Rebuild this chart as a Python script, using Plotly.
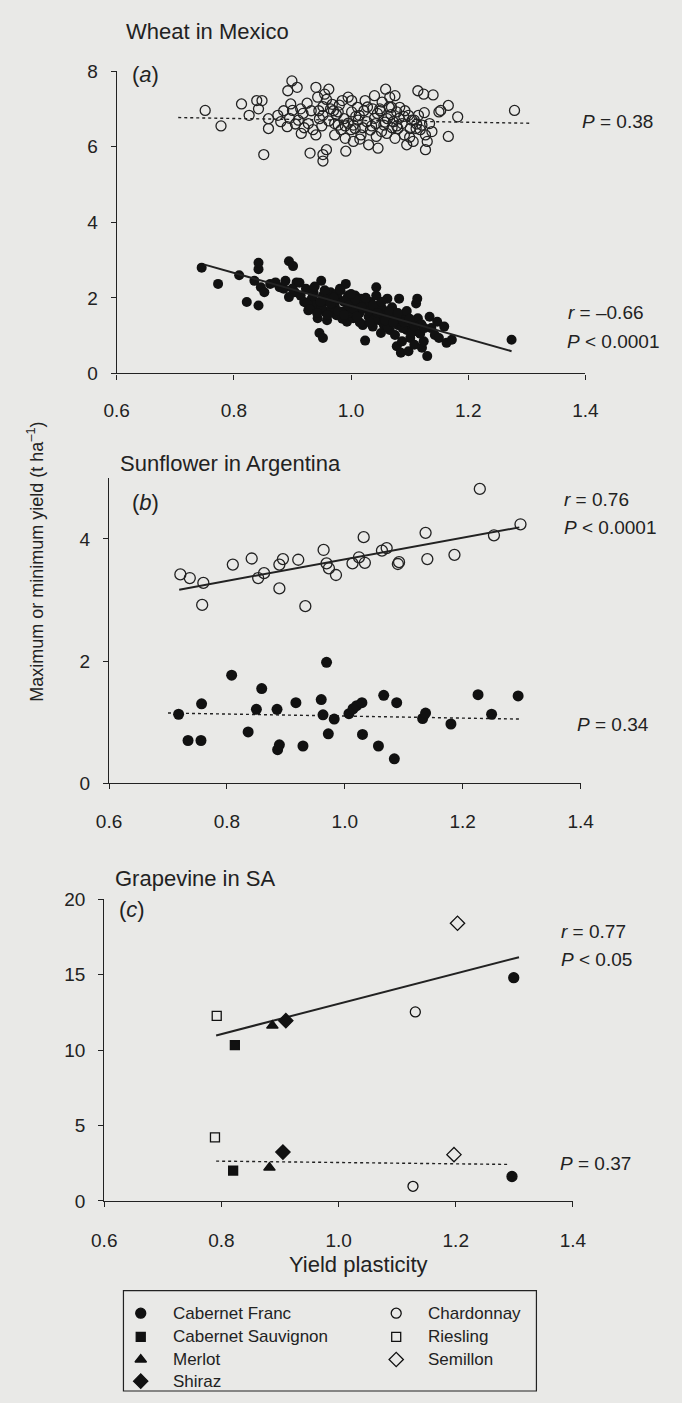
import plotly.graph_objects as go

W, H = 682, 1403
FONT = "Liberation Sans, Arial, Helvetica, sans-serif"
INK = "#222222"
BG = "#e9e9e7"

# ---------------- (a) Wheat in Mexico ----------------
wheat_max_x = [0.751, 0.778, 0.813, 0.826, 0.839, 0.848, 0.842, 0.859, 0.859, 0.851,
               0.875, 0.880, 0.891, 0.892, 0.899, 0.908, 0.897, 0.900, 0.914, 0.910,
               0.915, 0.927, 0.930, 0.940, 0.943, 0.940, 0.946, 0.952, 0.952, 0.952,
               0.958, 0.952, 0.955, 0.962, 0.965, 0.972, 0.972, 0.978, 0.978, 0.985,
               0.988, 0.990, 0.991, 0.995, 1.001, 1.001, 1.004, 1.004, 1.007, 1.011,
               1.014, 1.017, 1.024, 1.027, 1.030, 1.033, 1.037, 1.040, 1.042, 1.043,
               1.046, 1.049, 1.053, 1.056, 1.059, 1.061, 1.062, 1.066, 1.069, 1.072,
               1.075, 1.075, 1.078, 1.080, 1.083, 1.087, 1.091, 1.095, 1.098, 1.101,
               1.104, 1.106, 1.111, 1.114, 1.115, 1.121, 1.124, 1.127, 1.130, 1.127,
               1.134, 1.140, 1.150, 1.153, 1.166, 1.166, 1.182, 1.279,
               0.905, 0.918, 0.925, 0.935, 0.945, 0.962, 0.968, 0.975, 0.983, 0.995,
               1.008, 1.015, 1.022, 1.035, 1.045, 1.052, 1.065, 1.070, 1.082, 1.092,
               1.100, 1.108, 1.118, 1.125, 1.138,
               0.885, 0.895, 0.920, 0.932, 0.950, 0.958, 0.970, 0.980, 0.990, 1.000,
               1.012, 1.020, 1.028, 1.040, 1.050, 1.058, 1.068, 1.078, 1.090, 1.112]
wheat_max_y = [6.96, 6.55, 7.13, 6.83, 7.22, 7.22, 7.00, 6.48, 6.74, 5.79,
               6.83, 6.66, 6.53, 7.48, 7.74, 7.57, 7.13, 6.96, 7.00, 6.70,
               6.35, 6.61, 5.83, 7.57, 7.31, 6.31, 6.74, 6.83, 5.79, 5.62,
               5.92, 7.06, 7.39, 7.52, 7.00, 6.61, 6.31, 6.57, 6.92, 7.22,
               6.74, 6.22, 5.88, 7.31, 6.92, 7.22, 6.57, 6.14, 6.48, 7.04,
               6.83, 6.31, 7.22, 6.66, 6.05, 6.44, 7.00, 7.35, 6.61, 6.27,
               5.96, 7.00, 7.18, 6.57, 7.52, 6.35, 6.74, 7.31, 7.04, 6.66,
               6.22, 7.35, 6.92, 6.48, 7.04, 6.61, 6.31, 6.05, 6.83, 6.48,
               6.70, 6.14, 6.48, 7.48, 6.83, 6.57, 7.39, 6.31, 6.14, 5.92,
               6.61, 7.37, 6.92, 6.96, 7.09, 6.27, 6.79, 6.96,
               6.60, 6.88, 7.15, 6.45, 6.95, 6.68, 7.12, 6.85, 6.45, 6.62,
               6.80, 6.20, 6.95, 6.55, 6.88, 6.40, 7.05, 6.50, 6.75, 6.95,
               6.25, 6.70, 6.45, 6.90, 6.40,
               6.95, 6.75, 6.50, 6.95, 6.55, 7.25, 6.95, 7.10, 6.55, 6.45,
               6.70, 6.50, 7.05, 6.75, 6.95, 6.65, 6.85, 6.55, 6.80, 6.60]
wheat_min_x = [0.745, 0.773, 0.809, 0.822, 0.835, 0.842, 0.842, 0.842, 0.846, 0.852,
               0.862, 0.871, 0.878, 0.885, 0.888, 0.894, 0.901, 0.894, 0.904, 0.907,
               0.914, 0.920, 0.923, 0.927, 0.933, 0.936, 0.940, 0.943, 0.949, 0.946,
               0.952, 0.952, 0.956, 0.959, 0.962, 0.965, 0.972, 0.975, 0.978, 0.981,
               0.985, 0.988, 0.991, 0.993, 0.995, 0.998, 1.001, 1.004, 1.007, 1.011,
               1.014, 1.017, 1.020, 1.024, 1.027, 1.030, 1.033, 1.037, 1.040, 1.043,
               1.043, 1.048, 1.051, 1.053, 1.056, 1.059, 1.062, 1.066, 1.069, 1.072,
               1.075, 1.078, 1.080, 1.082, 1.085, 1.087, 1.091, 1.095, 1.098, 1.101,
               1.104, 1.108, 1.111, 1.113, 1.114, 1.117, 1.121, 1.124, 1.130, 1.134,
               1.137, 1.143, 1.147, 1.150, 1.159, 1.163, 1.172, 1.274,
               0.900, 0.912, 0.925, 0.938, 0.950, 0.958, 0.967, 0.975, 0.985, 0.992,
               1.000, 1.008, 1.015, 1.022, 1.030, 1.040, 1.047, 1.055, 1.062, 1.070,
               1.078, 1.088, 1.095, 1.105, 1.120,
               0.930, 0.935, 0.942, 0.948, 0.955, 0.960, 0.965, 0.970, 0.978, 0.982,
               0.988, 0.995, 1.000, 1.005, 1.010, 1.018, 1.025, 1.032, 1.038, 1.045,
               1.052, 1.058, 1.065, 1.072, 1.080, 1.090, 1.100, 1.108, 1.118, 1.125]
wheat_min_y = [2.80, 2.37, 2.60, 1.89, 2.45, 2.76, 2.93, 1.80, 2.28, 2.15,
               2.37, 2.41, 2.28, 2.24, 2.45, 2.97, 2.84, 2.02, 2.15, 2.41,
               2.06, 1.89, 2.24, 1.67, 1.98, 2.15, 1.80, 1.46, 2.45, 1.07,
               0.94, 2.06, 1.63, 1.41, 1.89, 2.15, 1.80, 1.54, 1.98, 2.24,
               1.63, 1.89, 2.37, 1.37, 2.06, 1.72, 1.89, 1.46, 2.06, 1.80,
               1.59, 1.98, 1.28, 0.87, 1.72, 1.50, 1.89, 1.24, 1.63, 2.28,
               2.06, 1.41, 1.07, 1.72, 1.28, 1.54, 1.98, 1.15, 1.41, 1.63,
               1.02, 0.72, 1.28, 1.98, 0.55, 0.85, 1.50, 1.15, 0.59, 0.94,
               1.33, 0.76, 1.85, 1.98, 1.46, 1.07, 0.68, 0.85, 0.46, 1.50,
               1.20, 1.02, 1.37, 0.94, 1.24, 0.81, 0.89, 0.89,
               2.25, 2.40, 1.85, 2.30, 1.75, 1.95, 1.70, 2.10, 1.45, 1.95,
               1.60, 1.95, 1.35, 1.85, 1.65, 1.45, 1.80, 1.55, 1.25, 1.75,
               1.45, 1.20, 1.65, 1.10, 1.30,
               1.70, 2.05, 1.60, 1.90, 2.20, 1.55, 1.85, 2.00, 1.65, 2.20,
               1.55, 1.80, 2.10, 1.70, 1.50, 1.75, 2.00, 1.35, 1.80, 1.60,
               1.90, 1.40, 1.65, 1.35, 1.60, 1.35, 1.45, 1.25, 1.05, 1.20]
wheat_max_fit_x = [0.705, 1.305]
wheat_max_fit_y = [6.77, 6.62]
wheat_min_fit_x = [0.750, 1.274]
wheat_min_fit_y = [2.88, 0.59]

# ---------------- (b) Sunflower in Argentina ----------------
sun_max_x = [0.721, 0.737, 0.760, 0.758, 0.810, 0.842, 0.853, 0.863, 0.889, 0.895,
             0.889, 0.921, 0.933, 0.964, 0.969, 0.973, 0.985, 1.013, 1.024, 1.034,
             1.032, 1.063, 1.071, 1.090, 1.092, 1.137, 1.140, 1.186, 1.229, 1.253,
             1.298]
sun_max_y = [3.42, 3.36, 3.28, 2.92, 3.58, 3.68, 3.36, 3.44, 3.58, 3.67,
             3.19, 3.66, 2.90, 3.82, 3.60, 3.52, 3.41, 3.60, 3.70, 3.61,
             4.03, 3.81, 3.85, 3.59, 3.62, 4.10, 3.67, 3.74, 4.82, 4.06,
             4.24]
sun_min_x = [0.718, 0.734, 0.756, 0.757, 0.808, 0.836, 0.850, 0.859, 0.885, 0.886,
             0.889, 0.917, 0.929, 0.960, 0.969, 0.963, 0.972, 0.982, 1.007, 1.014,
             1.020, 1.029, 1.030, 1.057, 1.066, 1.084, 1.088, 1.132, 1.137, 1.180,
             1.226, 1.249, 1.294]
sun_min_y = [1.13, 0.70, 0.70, 1.30, 1.77, 0.84, 1.21, 1.55, 1.21, 0.55,
             0.63, 1.32, 0.61, 1.37, 1.98, 1.12, 0.81, 1.05, 1.14, 1.22,
             1.27, 1.32, 0.80, 0.61, 1.44, 0.40, 1.32, 1.06, 1.15, 0.97,
             1.45, 1.13, 1.43]
sun_max_fit_x = [0.719, 1.296]
sun_max_fit_y = [3.17, 4.19]
sun_min_fit_x = [0.700, 1.300]
sun_min_fit_y = [1.15, 1.05]

# ---------------- (c) Grapevine in SA ----------------
# each cultivar: [maximum, minimum]
grape_cultivars = ["Cabernet Franc", "Cabernet Sauvignon", "Merlot", "Shiraz",
                   "Chardonnay", "Riesling", "Semillon"]
grape_x = {"Cabernet Franc": [1.299, 1.296], "Chardonnay": [1.131, 1.127],
           "Cabernet Sauvignon": [0.823, 0.820], "Riesling": [0.792, 0.789],
           "Merlot": [0.887, 0.882], "Semillon": [1.203, 1.197],
           "Shiraz": [0.910, 0.905]}
grape_y = {"Cabernet Franc": [14.81, 1.62], "Chardonnay": [12.54, 0.97],
           "Cabernet Sauvignon": [10.34, 2.01], "Riesling": [12.28, 4.22],
           "Merlot": [11.63, 2.21], "Semillon": [18.42, 3.07],
           "Shiraz": [11.96, 3.24]}
grape_symbol = {"Cabernet Franc": "circle", "Chardonnay": "circle-open",
                "Cabernet Sauvignon": "square", "Riesling": "square-open",
                "Merlot": "triangle-up", "Semillon": "diamond-open",
                "Shiraz": "diamond"}
grape_size = {"Cabernet Franc": 10, "Chardonnay": 10, "Cabernet Sauvignon": 9,
              "Riesling": 9, "Merlot": 10, "Semillon": 11, "Shiraz": 11}
grape_max_fit_x = [0.791, 1.308]
grape_max_fit_y = [10.98, 16.17]
grape_min_fit_x = [0.791, 1.291]
grape_min_fit_y = [2.64, 2.42]

x_ticks = [0.6, 0.8, 1.0, 1.2, 1.4]
x_ticklabels = ["0.6", "0.8", "1.0", "1.2", "1.4"]

# key box layout (pixels inside the box): column of each cultivar and its row
key_col = {"Cabernet Franc": 0, "Cabernet Sauvignon": 0, "Merlot": 0, "Shiraz": 0,
           "Chardonnay": 1, "Riesling": 1, "Semillon": 1}
key_row = {"Cabernet Franc": 0, "Cabernet Sauvignon": 1, "Merlot": 2, "Shiraz": 3,
           "Chardonnay": 0, "Riesling": 1, "Semillon": 2}
KEY_LEFT, KEY_RIGHT, KEY_TOP, KEY_BOTTOM = 115, 545, 1300, 1402
KEY_SYMBOL_X = [18, 284]
KEY_TEXT_X = [50, 315]
KEY_ROW_Y = [23, 47, 70, 92]


def px(x):
    return x / W


def py(y):
    return 1 - y / H


fig = go.Figure()

open_marker = dict(symbol="circle-open", size=10, color=INK, line=dict(width=1.3, color=INK))
fill_marker = dict(symbol="circle", size=10, color="#111111", line=dict(width=0))

# panel (a)
fig.add_trace(go.Scatter(x=wheat_max_fit_x, y=wheat_max_fit_y, mode="lines",
                         line=dict(color=INK, width=1.4, dash="dot"),
                         xaxis="x", yaxis="y"))
fig.add_trace(go.Scatter(x=wheat_max_x, y=wheat_max_y, mode="markers", marker=open_marker,
                         xaxis="x", yaxis="y"))
fig.add_trace(go.Scatter(x=wheat_min_x, y=wheat_min_y, mode="markers", marker=fill_marker,
                         xaxis="x", yaxis="y"))
fig.add_trace(go.Scatter(x=wheat_min_fit_x, y=wheat_min_fit_y, mode="lines",
                         line=dict(color=INK, width=2),
                         xaxis="x", yaxis="y"))

# panel (b)
fig.add_trace(go.Scatter(x=sun_max_fit_x, y=sun_max_fit_y, mode="lines",
                         line=dict(color=INK, width=2),
                         xaxis="x2", yaxis="y2"))
fig.add_trace(go.Scatter(x=sun_max_x, y=sun_max_y, mode="markers",
                         marker=dict(open_marker, size=11),
                         xaxis="x2", yaxis="y2"))
fig.add_trace(go.Scatter(x=sun_min_fit_x, y=sun_min_fit_y, mode="lines",
                         line=dict(color=INK, width=1.4, dash="dot"),
                         xaxis="x2", yaxis="y2"))
fig.add_trace(go.Scatter(x=sun_min_x, y=sun_min_y, mode="markers",
                         marker=dict(fill_marker, size=11),
                         xaxis="x2", yaxis="y2"))

# panel (c)
fig.add_trace(go.Scatter(x=grape_max_fit_x, y=grape_max_fit_y, mode="lines",
                         line=dict(color=INK, width=2),
                         xaxis="x3", yaxis="y3"))
fig.add_trace(go.Scatter(x=grape_min_fit_x, y=grape_min_fit_y, mode="lines",
                         line=dict(color=INK, width=1.4, dash="dot"),
                         xaxis="x3", yaxis="y3"))
for name in grape_cultivars:
    mk = dict(symbol=grape_symbol[name], size=grape_size[name], color="#111111",
              line=dict(width=1.3, color="#111111"))
    fig.add_trace(go.Scatter(x=grape_x[name], y=grape_y[name], mode="markers", name=name,
                             marker=mk, xaxis="x3", yaxis="y3"))
    # symbol in the key box
    fig.add_trace(go.Scatter(x=[KEY_SYMBOL_X[key_col[name]]], y=[KEY_ROW_Y[key_row[name]]],
                             mode="markers", marker=mk, xaxis="x4", yaxis="y4",
                             hoverinfo="skip"))
    fig.add_annotation(text=name, x=KEY_TEXT_X[key_col[name]], y=KEY_ROW_Y[key_row[name]],
                       xref="x4", yref="y4", xanchor="left", yanchor="middle",
                       showarrow=False, font=dict(family=FONT, size=17, color=INK))

axis_common = dict(showline=True, linecolor=INK, linewidth=1.2, ticks="outside",
                   ticklen=5, tickwidth=1.2, tickcolor=INK, showgrid=False,
                   zeroline=False, tickfont=dict(family=FONT, size=19, color=INK))

xcommon = dict(axis_common, range=[0.6, 1.4], tickvals=x_ticks, ticktext=x_ticklabels)
ycommon = dict(axis_common, ticklabelstandoff=9)

fig.update_layout(
    width=W, height=H,
    margin=dict(l=0, r=0, t=0, b=0),
    paper_bgcolor=BG, plot_bgcolor="rgba(0,0,0,0)",
    font=dict(family=FONT, color=INK),
    showlegend=False,
    xaxis=dict(xcommon, domain=[px(108), px(596)], anchor="y", ticklabelstandoff=15),
    yaxis=dict(ycommon, domain=[py(369), py(62)], range=[0, 8],
               tickvals=[0, 2, 4, 6, 8], anchor="x"),
    xaxis2=dict(xcommon, domain=[px(100), px(591)], anchor="y2", ticklabelstandoff=16),
    yaxis2=dict(ycommon, domain=[py(785), py(475)], range=[0, 5],
                tickvals=[0, 2, 4], anchor="x2"),
    xaxis3=dict(xcommon, domain=[px(95), px(583)], anchor="y3", ticklabelstandoff=17),
    yaxis3=dict(ycommon, domain=[py(1209), py(903)], range=[0, 20],
                tickvals=[0, 5, 10, 15, 20], anchor="x3"),
    xaxis4=dict(domain=[px(KEY_LEFT), px(KEY_RIGHT)], range=[0, KEY_RIGHT - KEY_LEFT],
                visible=False, anchor="y4", fixedrange=True),
    yaxis4=dict(domain=[py(KEY_BOTTOM), py(KEY_TOP)], range=[KEY_BOTTOM - KEY_TOP, 0],
                visible=False, anchor="x4", fixedrange=True),
)

# key frame
fig.add_shape(type="rect", xref="paper", yref="paper",
              x0=px(KEY_LEFT), x1=px(KEY_RIGHT), y0=py(KEY_BOTTOM), y1=py(KEY_TOP),
              line=dict(color=INK, width=1.2), fillcolor="rgba(0,0,0,0)")


def label(text, x, y, xanchor="left", size=19):
    fig.add_annotation(text=text, x=px(x), y=py(y), xref="paper", yref="paper",
                       xanchor=xanchor, yanchor="middle", showarrow=False,
                       font=dict(family=FONT, size=size, color=INK))


label("Wheat in Mexico", 116, 22, size=22)
label("(<i>a</i>)", 122, 65, size=22)
label("<i>P</i> = 0.38", 668, 113, xanchor="right")
label("<i>r</i> = –0.66", 576, 307)
label("<i>P</i> < 0.0001", 575, 337)

label("Sunflower in Argentina", 109, 460, size=22)
label("(<i>b</i>)", 122, 500, size=22)
label("<i>r</i> = 0.76", 572, 497)
label("<i>P</i> < 0.0001", 572, 525)
label("<i>P</i> = 0.34", 664, 725, xanchor="right")

label("Grapevine in SA", 104, 882, size=22)
label("(<i>c</i>)", 108, 913, size=22)
label("<i>r</i> = 0.77", 569, 935)
label("<i>P</i> < 0.05", 569, 964)
label("<i>P</i> = 0.37", 567, 1171)

label("Yield plasticity", 360, 1274, xanchor="center", size=22)
fig.add_annotation(text="Maximum or minimum yield (t ha<sup>–1</sup>)", x=px(24), y=py(560),
                   xref="paper", yref="paper", textangle=-90, showarrow=False,
                   xanchor="center", yanchor="middle",
                   font=dict(family=FONT, size=18, color=INK))

fig.write_html("out.html")
